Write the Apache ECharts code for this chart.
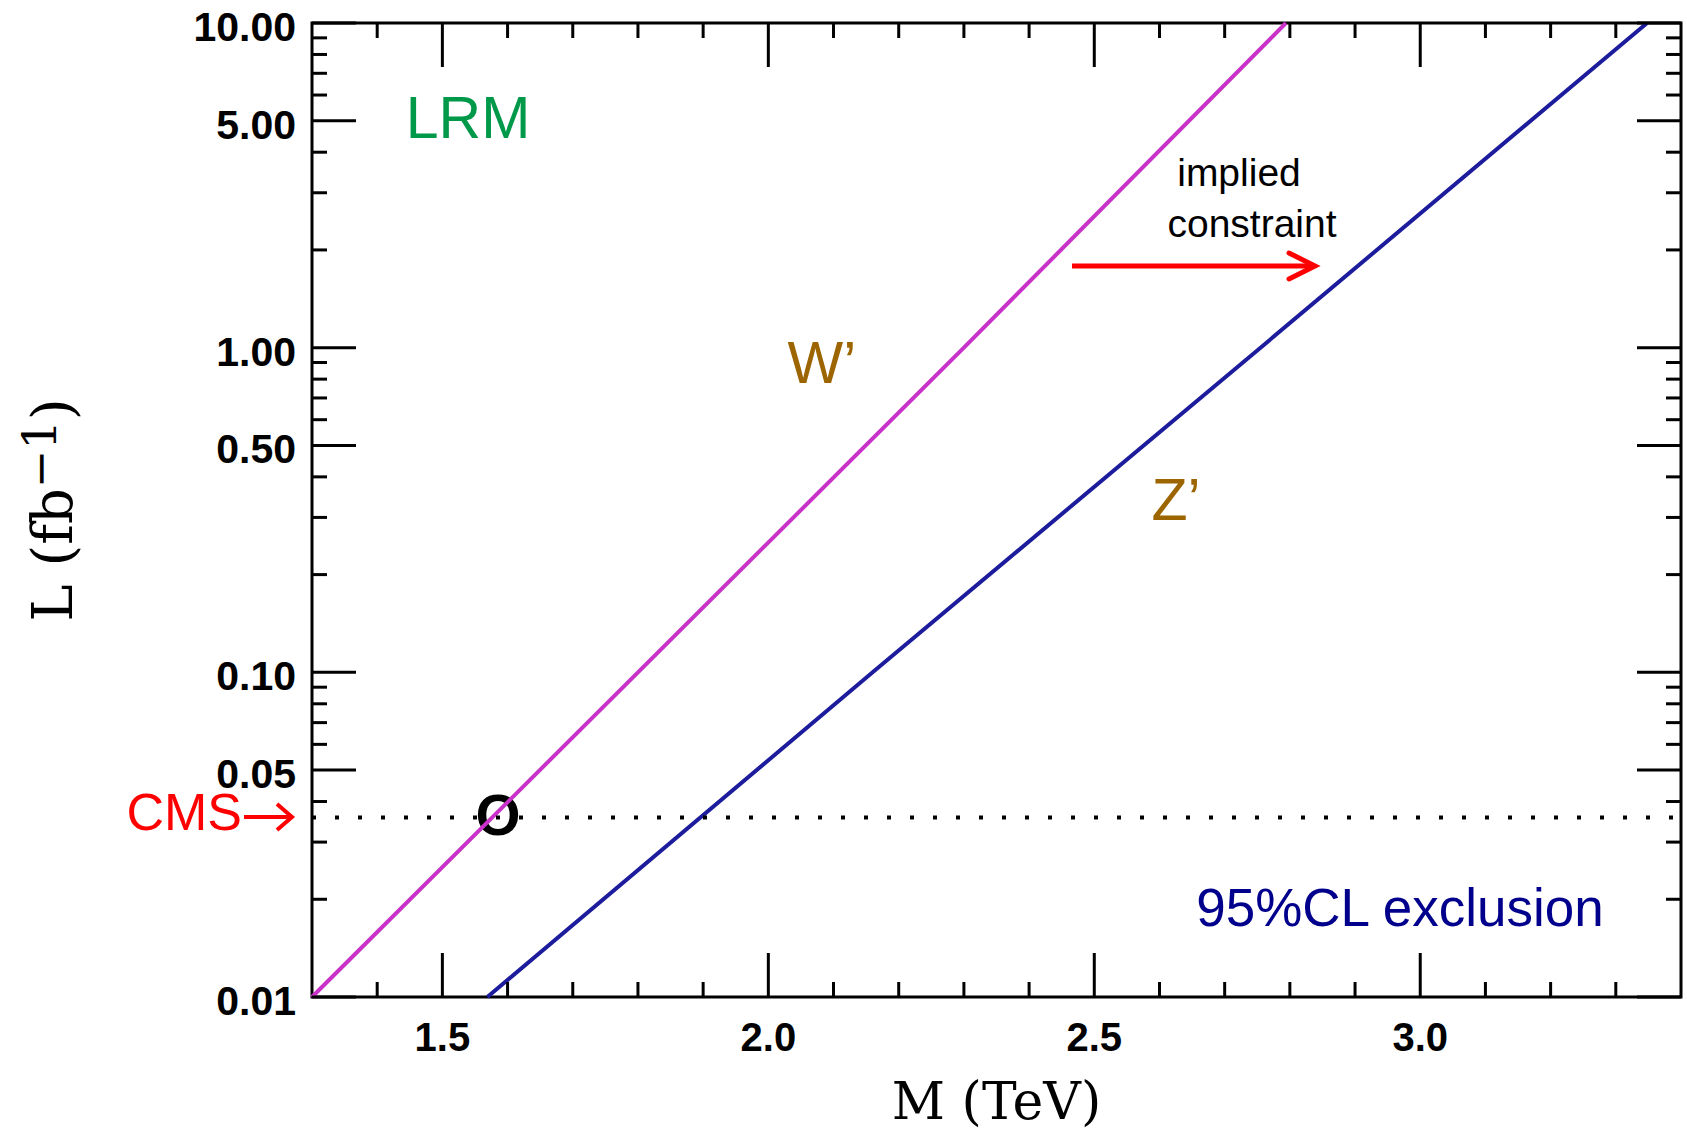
<!DOCTYPE html>
<html><head><meta charset="utf-8">
<script src="https://cdn.jsdelivr.net/npm/echarts@6/dist/echarts.min.js"></script>
<style>html,body{margin:0;padding:0;background:#fff}#c{width:1687px;height:1133px}</style>
</head><body><div id="c"></div>
<script>
// ---- data ----
const wPrimeM = [1.30, 1.80, 2.30, 2.794];
const wPrimeL = [0.01, 0.1, 1, 10];
const zPrimeM = [1.569, 2.16, 2.755, 3.348];
const zPrimeL = [0.01, 0.1, 1, 10];
const cmsLumi = 0.0357;
const xTickLabels = [1.5, 2.0, 2.5, 3.0];
const xMinorTicks = [1.4, 1.6, 1.7, 1.8, 1.9, 2.1, 2.2, 2.3, 2.4, 2.6, 2.7, 2.8, 2.9, 3.1, 3.2, 3.3];
const yTickLabels = [0.01, 0.05, 0.1, 0.5, 1, 5, 10];
const yMinorTicks = [0.02, 0.03, 0.04, 0.06, 0.07, 0.08, 0.09, 0.2, 0.3, 0.4, 0.6, 0.7, 0.8, 0.9, 2, 3, 4, 6, 7, 8, 9];
const xMin = 1.3, xMax = 3.4, yMin = 0.01, yMax = 10;

const wData = wPrimeM.map((m, i) => [m, wPrimeL[i]]);
const zData = zPrimeM.map((m, i) => [m, zPrimeL[i]]);
const cmsData = [[xMin, cmsLumi], [xMax, cmsLumi]];
const xTickData = xTickLabels.map(v => [v, 1, 1]).concat(xMinorTicks.map(v => [v, 1, 0]));
const yTickData = yTickLabels.map(v => [xMin, v, 1]).concat(yMinorTicks.map(v => [xMin, v, 0]));

const chart = echarts.init(document.getElementById('c'), null, {renderer: 'svg'});

function xTickRender(params, api) {
  const v = api.value(0), major = api.value(2);
  const len = major ? 44 : 15;
  const b = api.coord([v, yMin]), t = api.coord([v, yMax]);
  return {type: 'group', children: [
    {type: 'line', shape: {x1: b[0], y1: b[1], x2: b[0], y2: b[1] - len}, style: {stroke: '#000', lineWidth: 3}},
    {type: 'line', shape: {x1: t[0], y1: t[1], x2: t[0], y2: t[1] + len}, style: {stroke: '#000', lineWidth: 3}}
  ]};
}
function yTickRender(params, api) {
  const v = api.value(1), major = api.value(2);
  const len = major ? 44 : 15;
  const l = api.coord([xMin, v]), r = api.coord([xMax, v]);
  const children = [
    {type: 'line', shape: {x1: l[0], y1: l[1], x2: l[0] + len, y2: l[1]}, style: {stroke: '#000', lineWidth: 3}},
    {type: 'line', shape: {x1: r[0], y1: r[1], x2: r[0] - len, y2: r[1]}, style: {stroke: '#000', lineWidth: 3}}
  ];
  if (major) {
    children.push({type: 'text', x: l[0] - 16, y: l[1] + 4,
      style: {text: v.toFixed(2), fill: '#000', fontSize: 41, fontWeight: 'bold', fontFamily: 'Liberation Sans',
        align: 'right', verticalAlign: 'middle', textAlign: 'right', textVerticalAlign: 'middle'}});
  }
  return {type: 'group', children};
}

const serif = 'DejaVu Serif';
const C = {align: 'center', verticalAlign: 'middle', textAlign: 'center', textVerticalAlign: 'middle', fontFamily: 'Liberation Sans'};
const option = {
  animation: false,
  backgroundColor: '#fff',
  grid: {left: 312, top: 23, width: 1369, height: 974, show: true, borderColor: '#000', borderWidth: 3, backgroundColor: 'transparent'},
  xAxis: {
    type: 'value', min: xMin, max: xMax,
    axisLine: {show: false}, axisTick: {show: false}, splitLine: {show: false},
    axisLabel: {customValues: xTickLabels, formatter: v => Number(v).toFixed(1), margin: 20,
      fontSize: 40, fontWeight: 'bold', fontFamily: 'Liberation Sans', color: '#000'},
    name: 'M (TeV)', nameLocation: 'middle', nameGap: 78,
    nameTextStyle: {fontFamily: serif, fontSize: 52, color: '#000'}
  },
  yAxis: {
    type: 'log', logBase: 10, min: yMin, max: yMax,
    axisLine: {show: false}, axisTick: {show: false}, splitLine: {show: false}, axisLabel: {show: false},
    name: 'L (fb{s|−1})', nameLocation: 'middle', nameRotate: 90, nameGap: 225,
    nameTextStyle: {fontFamily: serif, fontSize: 56, color: '#000',
      rich: {s: {fontFamily: serif, fontSize: 46, color: '#000', padding: [0, 0, 24, 0]}}}
  },
  series: [
    {type: 'line', name: "W'", data: wData, showSymbol: false, symbol: 'none', silent: true,
      lineStyle: {color: '#C832C8', width: 4}},
    {type: 'line', name: "Z'", data: zData, showSymbol: false, symbol: 'none', silent: true,
      lineStyle: {color: '#1C1C9C', width: 4}},
    {type: 'line', name: 'CMS', data: cmsData, showSymbol: false, symbol: 'none', silent: true,
      lineStyle: {color: '#000', type: [4, 19], width: 4}},
    {type: 'custom', silent: true, data: xTickData, renderItem: xTickRender, encode: {x: 0, y: 1}, z: 5},
    {type: 'custom', silent: true, data: yTickData, renderItem: yTickRender, encode: {x: 0, y: 1}, z: 5}
  ],
  graphic: [
    {type: 'text', x: 468, y: 118, style: Object.assign({text: 'LRM', fill: '#00994A', fontSize: 59}, C)},
    {type: 'text', x: 822, y: 363, style: Object.assign({text: 'W’', fill: '#9C6500', fontSize: 59}, C)},
    {type: 'text', x: 1176, y: 500, style: Object.assign({text: 'Z’', fill: '#9C6500', fontSize: 59}, C)},
    {type: 'text', x: 1239, y: 172, style: Object.assign({text: 'implied', fill: '#000', fontSize: 39}, C)},
    {type: 'text', x: 1252, y: 223, style: Object.assign({text: 'constraint', fill: '#000', fontSize: 39}, C)},
    {type: 'text', x: 1400, y: 907, style: Object.assign({text: '95%CL exclusion', fill: '#00008C', fontSize: 53}, C)},
    {type: 'text', x: 498, y: 814, style: Object.assign({text: 'O', fill: '#000', fontSize: 58, fontWeight: 'bold'}, C)},
    {type: 'text', x: 242, y: 812, style: {text: 'CMS', fill: '#FF0000', fontSize: 52, fontFamily: 'Liberation Sans', align: 'right', verticalAlign: 'middle', textAlign: 'right', textVerticalAlign: 'middle'}},
    {type: 'line', shape: {x1: 244, y1: 817, x2: 291, y2: 817}, style: {stroke: '#FF0000', lineWidth: 4}},
    {type: 'polyline', shape: {points: [[277, 804], [292, 817], [277, 830]]}, style: {stroke: '#FF0000', fill: null, lineWidth: 4, lineJoin: 'miter', lineCap: 'butt'}},
    {type: 'line', shape: {x1: 1072, y1: 266, x2: 1313, y2: 266}, style: {stroke: '#FF0000', lineWidth: 5}},
    {type: 'polyline', shape: {points: [[1289, 253], [1315, 266], [1289, 279]]}, style: {stroke: '#FF0000', fill: null, lineWidth: 5, lineJoin: 'miter', lineCap: 'round'}}
  ]
};
chart.setOption(option);
</script>
</body></html>
